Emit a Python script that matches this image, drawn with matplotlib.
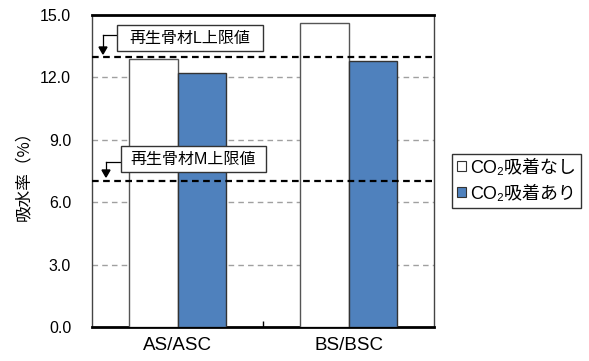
import matplotlib
matplotlib.use("Agg")
import matplotlib.pyplot as plt
import numpy as np
from matplotlib.patches import Rectangle, Patch

plt.rcParams['font.family'] = ['Liberation Sans', 'Noto Sans CJK JP', 'DejaVu Sans']

categories = ["AS/ASC", "BS/BSC"]
no_co2 = [12.9, 14.6]
with_co2 = [12.2, 12.8]
series_labels = ["CO₂吸着なし", "CO₂吸着あり"]
limit_values = [13.0, 7.0]
limit_labels = ["再生骨材L上限値", "再生骨材M上限値"]
yticks = [0.0, 3.0, 6.0, 9.0, 12.0, 15.0]

fig = plt.figure(figsize=(5.89, 3.61), dpi=100)
W, H = 589, 361
ax = fig.add_axes([92 / W, 1 - 327 / H, (434 - 92) / W, (327 - 15) / H])

x = np.arange(len(categories))
bw = 0.285
ax.bar(x - bw / 2, no_co2, bw, color="white", edgecolor="#555555", linewidth=1.0, zorder=3)
ax.bar(x + bw / 2, with_co2, bw, color="#4f81bd", edgecolor="#333333", linewidth=1.0, zorder=3)

ax.set_xlim(-0.5, 1.5)
ax.set_ylim(0, 15)
ax.set_yticks(yticks)
ax.set_yticklabels([f"{v:.1f}" for v in yticks], fontsize=11.5)
ax.set_xticks(x)
ax.set_xticklabels(categories, fontsize=13.5)
ax.tick_params(axis='x', length=0, pad=7)
ax.tick_params(axis='y', length=0, pad=15)
ax.set_xticks([0.5], minor=True)
ax.tick_params(axis='x', which='minor', direction='in', length=4, width=1)

for v in yticks[1:-1]:
    ax.axhline(v, color="#a0a0a0", linestyle=(0, (4, 3)), linewidth=1.0, zorder=1)

for v in limit_values:
    ax.axhline(v, color="black", linestyle=(0, (3, 2)), linewidth=1.6, zorder=4)

for s in ['left', 'right']:
    ax.spines[s].set_linewidth(1.0)
    ax.spines[s].set_color("#444444")
ax.spines['bottom'].set_linewidth(2.0)
ax.spines['bottom'].set_color("black")
ax.spines['top'].set_linewidth(2.0)
ax.spines['top'].set_color("black")


def fx(px):
    return px / W


def fy(py):
    return 1 - py / H


boxes = [(117, 25, 263, 51, 103, 35, 54), (121, 146, 266, 172, 106, 161.5, 177)]
for (x0, y0, x1, y1, ax_x, line_y, tip_y), lab in zip(boxes, limit_labels):
    fig.patches.append(Rectangle((fx(x0), fy(y1)), fx(x1 - x0), (y1 - y0) / H,
                                 transform=fig.transFigure, facecolor="white",
                                 edgecolor="#333333", linewidth=1.0, zorder=5))
    fig.text(fx((x0 + x1) / 2), fy((y0 + y1) / 2 + 0.5), lab, ha="center", va="center",
             fontsize=11.5, zorder=6, family=['Liberation Sans', 'Noto Sans CJK JP'])
    fig.add_artist(plt.Line2D([fx(x0), fx(ax_x)], [fy(line_y), fy(line_y)],
                              transform=fig.transFigure, color="black", linewidth=0.9))
    fig.add_artist(plt.Line2D([fx(ax_x), fx(ax_x)], [fy(line_y), fy(tip_y - 6)],
                              transform=fig.transFigure, color="black", linewidth=0.9))
    fig.add_artist(plt.Polygon([[fx(ax_x - 4), fy(tip_y - 7)], [fx(ax_x + 4), fy(tip_y - 7)],
                                [fx(ax_x), fy(tip_y)]], closed=True, transform=fig.transFigure,
                               color="black"))

fig.text(24 / W, fy(172), "吸水率（%）", rotation=90, ha="center", va="center", fontsize=12,
         family=['Noto Sans CJK JP', 'DejaVu Sans'])

handles = [Patch(facecolor="white", edgecolor="#333333", linewidth=0.8),
           Patch(facecolor="#4f81bd", edgecolor="#333333", linewidth=0.8)]
leg = fig.legend(handles, series_labels, loc="upper left", bbox_to_anchor=(452 / W, fy(154)),
                 frameon=True, fancybox=False, edgecolor="black",
                 handlelength=0.45, handleheight=0.45, handletextpad=0.25, borderpad=0.3,
                 labelspacing=0.5, borderaxespad=0,
                 prop={'family': ['Liberation Sans', 'Noto Sans CJK JP'], 'size': 13})
leg.get_frame().set_linewidth(1.0)

fig.savefig("out.png", dpi=100)
